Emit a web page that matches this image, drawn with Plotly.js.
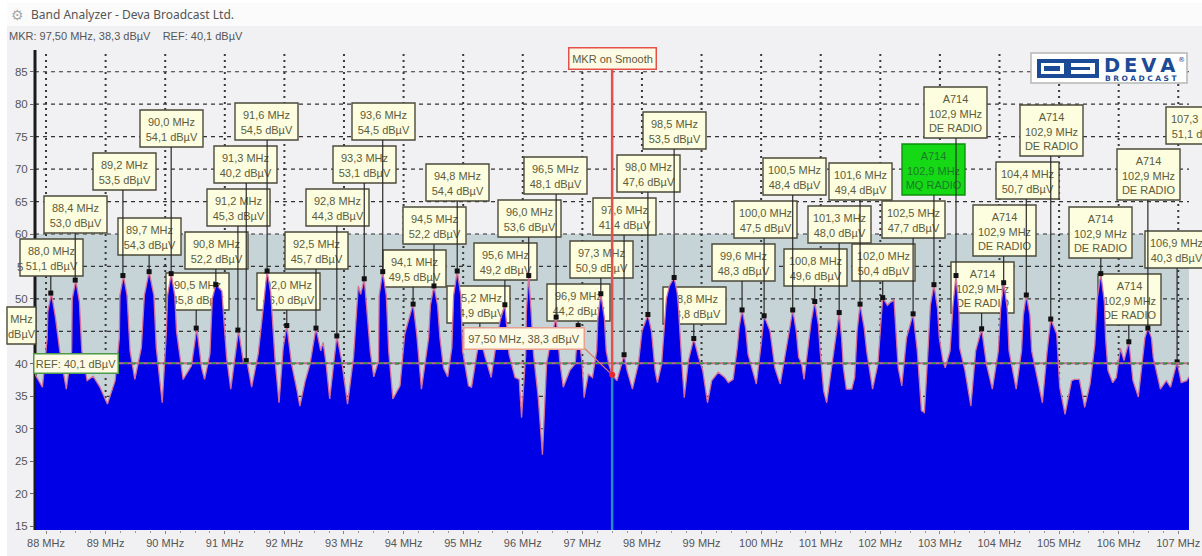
<!DOCTYPE html>
<html><head><meta charset="utf-8">
<script src="https://cdn.plot.ly/plotly-3.0.1.min.js"></script>
<style>html,body{margin:0;padding:0;background:#f1f1f3;overflow:hidden}</style></head>
<body><div id="chart" style="width:1202px;height:556px"></div>
<script>
// Spectrum outline
const outlineFreq = [87.815,87.94,88.02,88.09,88.16,88.23,88.34,88.43,88.50,88.6,88.69,88.79,88.9,89.03,89.16,89.23,89.30,89.41,89.49,89.6,89.73,89.85,89.95,90.02,90.10,90.19,90.30,90.44,90.53,90.61,90.66,90.75,90.85,90.95,91.03,91.10,91.17,91.23,91.31,91.37,91.45,91.56,91.65,91.71,91.79,91.84,91.91,91.98,92.04,92.12,92.21,92.26,92.35,92.43,92.53,92.61,92.65,92.70,92.76,92.88,92.96,93.06,93.16,93.24,93.28,93.34,93.44,93.5,93.58,93.65,93.75,93.82,93.94,94.02,94.11,94.16,94.22,94.30,94.42,94.51,94.61,94.67,94.74,94.81,94.90,94.99,95.09,95.14,95.22,95.28,95.37,95.47,95.56,95.62,95.70,95.77,95.87,95.94,95.98,96.05,96.10,96.18,96.26,96.33,96.40,96.48,96.56,96.62,96.68,96.79,96.88,96.93,97.0,97.03,97.1,97.17,97.24,97.31,97.40,97.45,97.5,97.58,97.63,97.70,97.75,97.84,97.94,98.0,98.10,98.16,98.22,98.26,98.33,98.41,98.54,98.61,98.67,98.71,98.78,98.87,98.95,99.02,99.1,99.17,99.28,99.39,99.45,99.53,99.6,99.68,99.78,99.92,100.0,100.05,100.15,100.23,100.32,100.43,100.53,100.63,100.68,100.72,100.79,100.90,100.99,101.05,101.10,101.18,101.31,101.38,101.43,101.52,101.57,101.66,101.77,101.87,101.96,102.04,102.12,102.16,102.23,102.3,102.36,102.44,102.55,102.62,102.69,102.74,102.8,102.90,102.99,103.05,103.09,103.17,103.27,103.33,103.42,103.52,103.6,103.70,103.78,103.88,103.98,104.07,104.16,104.28,104.37,104.45,104.54,104.63,104.72,104.8,104.86,104.96,105.01,105.1,105.21,105.26,105.34,105.43,105.52,105.6,105.70,105.78,105.82,105.9,105.96,106.03,106.09,106.17,106.24,106.33,106.41,106.49,106.58,106.7,106.8,106.87,106.98,107.05,107.14,107.18];
const outlineLevel = [38.4,36.4,44,50.9,47,42,36.1,42,52.9,42,37.4,38.1,36.5,33.8,37.4,44,53.6,42,37.6,42.5,54.2,42.5,34,45,53.9,45,37.6,39.7,45.5,39.4,37.6,41.5,52.2,51.2,41,36.1,41,45.2,40.4,40.5,36.4,41.5,49,54.3,48,41,34,42.5,45.9,40,36,33.5,37.4,40,45.5,42,43.3,40,34.6,44.3,40.5,33.8,41,52,50.7,53.1,42,38,40.5,54.2,42,34.6,36.6,44.6,47.6,49.2,44.6,36.1,44,52,44,39.4,38,42.5,54.3,42,36.6,36.4,41,44.2,41,37.9,43.5,46.6,49.1,41.5,37.9,37.6,31.7,41.5,53.6,41.5,34.8,26,40,44,47.2,40.5,36.4,39,40,45.9,39.4,34.8,38.4,37.9,42,50.8,42,39.7,38.3,37.4,39,41.4,39,36.1,40,45,47.6,45,39,37.1,40,50,53.3,49,40,34.8,40.5,43.9,41,39,34,37.4,38.7,37.9,37.1,37.6,42.5,48.3,41.5,36.9,43,47.4,45,39.4,36.9,42.5,48.3,41,40,37.6,43,49.6,42,35.8,34,39,47.9,39.4,36.1,36.1,37.9,49.2,42,36.1,40,50.2,49,49.4,49.8,39.4,36.6,44,47.7,42,32.8,32.5,42,52.2,44,40.5,39.4,42,53.6,42.5,39,33.5,42,45.4,40,36.1,42,52.5,42,36.1,42,50.6,42,37.9,34,42,46.9,44.6,36.4,32.2,37.4,37.6,37.6,33.3,36.9,43,53.9,44,39,37.1,37.9,42.4,40.5,43.4,37.4,34.9,41.5,45.5,41,36.1,37.4,36.4,40.3,37.1,37.4,38];
// Points on the shoulders of the tallest peaks
const shoulderFreq = [88.03,88.15,88.44,88.56,89.24,89.36,89.65,89.81,90.04,90.16,90.79,91.77,93.59,93.71,94.45,94.57,94.84,94.96,96.06,96.14,97.26,97.37,98.46,98.59,99.63,99.74,100.48,100.59,100.84,100.96,101.27,101.35,101.61,101.73,102.84,102.96,103.22,103.32,104.02,104.13,104.40,104.51,105.64,105.76,106.44,106.55];
const shoulderLevel = [48,48,50,49.5,50.5,50.5,50.5,50.5,50.5,50.5,50,51,50.5,50.5,49,49,50.5,50.5,48,48,47,47,52,51,45.5,45.5,45.5,45,46.5,46,45,44,45,45.5,49,48.5,49,48,48.5,48.5,47.5,47.5,50,49.5,44,44];

// Detected peaks: label text, marker frequency, marker level
const labelTexts = ["88,0 MHz<br>51,1 dBµV","88,4 MHz<br>53,0 dBµV","89,2 MHz<br>53,5 dBµV","89,7 MHz<br>54,3 dBµV","90,0 MHz<br>54,1 dBµV","90,5 MHz<br>45,8 dBµV","90,8 MHz<br>52,2 dBµV","91,2 MHz<br>45,3 dBµV","91,3 MHz<br>40,2 dBµV","91,6 MHz<br>54,5 dBµV","92,0 MHz<br>46,0 dBµV","92,5 MHz<br>45,7 dBµV","92,8 MHz<br>44,3 dBµV","93,3 MHz<br>53,1 dBµV","93,6 MHz<br>54,5 dBµV","94,1 MHz<br>49,5 dBµV","94,5 MHz<br>52,2 dBµV","94,8 MHz<br>54,4 dBµV","95,2 MHz<br>44,9 dBµV","95,6 MHz<br>49,2 dBµV","96,0 MHz<br>53,6 dBµV","96,5 MHz<br>48,1 dBµV","96,9 MHz<br>44,2 dBµV","97,3 MHz<br>50,9 dBµV","97,6 MHz<br>41,4 dBµV","98,0 MHz<br>47,6 dBµV","98,5 MHz<br>53,5 dBµV","98,8 MHz<br>43,8 dBµV","99,6 MHz<br>48,3 dBµV","100,0 MHz<br>47,5 dBµV","100,5 MHz<br>48,4 dBµV","100,8 MHz<br>49,6 dBµV","101,3 MHz<br>48,0 dBµV","101,6 MHz<br>49,4 dBµV","102,0 MHz<br>50,4 dBµV","102,5 MHz<br>47,7 dBµV","A714<br>102,9 MHz<br>MQ RADIO","A714<br>102,9 MHz<br>DE RADIO","A714<br>102,9 MHz<br>DE RADIO","A714<br>102,9 MHz<br>DE RADIO","104,4 MHz<br>50,7 dBµV","A714<br>102,9 MHz<br>DE RADIO","A714<br>102,9 MHz<br>DE RADIO","A714<br>102,9 MHz<br>DE RADIO","A714<br>102,9 MHz<br>DE RADIO","106,9 MHz<br>40,3 dBµV","107,3 MHz<br>51,1 dBµV"];
const peakFreq = [88.08,88.49,89.29,89.73,90.10,90.52,90.85,91.22,91.36,91.71,92.04,92.53,92.88,93.34,93.65,94.16,94.51,94.90,95.28,95.70,96.10,96.56,96.93,97.31,97.70,98.10,98.54,98.87,99.68,100.05,100.53,100.90,101.31,101.66,102.04,102.55,102.90,103.27,103.70,104.07,104.45,104.86,105.70,106.17,106.49,106.98,107.31];
const peakLevel = [50.9,52.9,53.6,54.2,53.9,45.5,52.2,45.2,40.5,54.3,45.9,45.5,44.3,53.1,54.2,49.2,52.0,54.3,44.2,49.1,53.6,47.2,45.9,50.8,41.4,47.6,53.3,43.9,48.3,47.4,48.3,49.6,47.9,49.2,50.2,47.7,52.2,53.6,45.4,52.5,50.6,46.9,53.9,43.4,45.5,40.3,50.9];
const xTickVals = [88,89,90,91,92,93,94,95,96,97,98,99,100,101,102,103,104,105,106,107];
const xTickText = xTickVals.map(v => v + " MHz");
const yTickVals = [15,20,25,30,35,40,50,60,65,70,75,80,85];
const gridLevels = [40,45,50,55,60,65,70,75,80,85,35,30];
const refLevel = 40.1, markerFreq = 97.5, markerLevel = 38.3;

// Merge both sets of outline points in frequency order
const outlinePairs = outlineFreq.map((f,i)=>[f,outlineLevel[i]]).concat(shoulderFreq.map((f,i)=>[f,shoulderLevel[i]])).sort((a,b)=>a[0]-b[0]);
const spectrumFreq = outlinePairs.map(p=>p[0]), spectrumLevel = outlinePairs.map(p=>p[1]);

// Page layout (pixels)
const W=1202,H=556,L=35,T=50,PW=1154,PH=480;
const xRange=[87.815,107.18], yRange=[14.4,88.35];
const labelLeft = [20,44,93,118,140,166,185,207,214,235,257,285,306,333,352,383,403,426,447,474,498,524,547,570,593,617,643,663,712,734,763,784,808,829,852,882,902,924,951,973,996,1020,1069,1098,1117,1145,1166];
const labelTop = [239,196,153,218,110,273,232,189,146,103,273,232,189,146,103,250,207,164,286,243,200,157,284,241,198,155,112,287,244,201,158,249,206,163,244,201,144,87,262,205,162,105,207,274,149,231,107];
const px = x => (x-L)/PW, py = y => 1-(y-T)/PH;
const yToLevel = y => yRange[1]-(y-T)/PH*(yRange[1]-yRange[0]);

const pRect = (x0,y0,x1,y1,o) => Object.assign({type:'rect',xref:'paper',yref:'paper',layer:'below',x0:px(x0),x1:px(x1),y0:py(y0),y1:py(y1),line:{width:0}},o||{});

const shapes = [];
shapes.push(pRect(0,0,7,H,{fillcolor:'#ffffff'}));
shapes.push(pRect(0,0,W,3,{fillcolor:'#ffffff'}));
shapes.push(pRect(7,3,W,26,{fillcolor:'#fbfbfb'}));
shapes.push(pRect(L,234,1189,530,{fillcolor:'#c6d4d7'}));
xTickVals.forEach(v=>shapes.push({type:'line',xref:'x',yref:'paper',layer:'below',x0:v,x1:v,y0:0,y1:1,line:{color:'#3a3a3a',width:2,dash:'2px,4px'}}));
gridLevels.forEach(v=>{const yp=py(T+(yRange[1]-v)/(yRange[1]-yRange[0])*PH);
  shapes.push({type:'line',xref:'paper',yref:'paper',layer:'below',x0:0,x1:1,y0:yp,y1:yp,line:{color:'#333',width:1.2,dash:'4px,4px'}});});
shapes.push({type:'line',xref:'paper',yref:'paper',layer:'below',x0:0,x1:0,y0:0,y1:1,line:{color:'#1a1a1a',width:3}});
// Logo plate
shapes.push(pRect(1031,53,1187,83,{fillcolor:'#ffffff',line:{color:'#b4b8b4',width:1.5}}));
shapes.push(pRect(1039,61,1066,76,{line:{color:'#1b4a96',width:4}}));
shapes.push(pRect(1044,66,1060,71,{fillcolor:'#1b4a96'}));
shapes.push(pRect(1069,61,1097,76,{line:{color:'#1b4a96',width:4}}));
shapes.push(pRect(1066,67,1090,70,{fillcolor:'#1b4a96'}));
// Peak label boxes
labelTexts.forEach((t,i)=>{
  const h = t.startsWith('A714') ? 51 : 37;
  const green = t.indexOf('MQ RADIO')>=0;
  shapes.push(pRect(labelLeft[i],labelTop[i],labelLeft[i]+63,labelTop[i]+h,{
    fillcolor: green?'#16d916':'#fdfde0', line:{color: green?'#0f8f0f':'#4a4a3a',width:1.4},
    label:{text:t,textposition:'middle center',font:{family:'Liberation Sans, Arial',size:11,color: green?'#1b7a2a':'#5c5c3c'}}
  }));
});
// Box that runs off the left side of the window
shapes.push(pRect(7,307,36,344,{fillcolor:'#fdfde0',line:{color:'#4a4a3a',width:1.4},
  label:{text:'MHz<br>dBµV',textposition:'middle center',font:{family:'Liberation Sans, Arial',size:11,color:'#5c5c3c'}}}));

// Leader lines from peak markers up to their boxes
const leadX=[],leadY=[];
labelTexts.forEach((t,i)=>{
  const h = t.startsWith('A714') ? 51 : 37;
  leadX.push(peakFreq[i],peakFreq[i],null);
  leadY.push(peakLevel[i],yToLevel(labelTop[i]+h),null);
});

const traces = [
 {x:leadX,y:leadY,mode:'lines',line:{color:'#2a2a2a',width:1.2},cliponaxis:false,hoverinfo:'skip',showlegend:false},
 {x:spectrumFreq,y:spectrumLevel,mode:'lines',fill:'tozeroy',fillcolor:'#0000e6',line:{color:'#d4709c',width:1.3},hoverinfo:'skip',showlegend:false},
 {x:peakFreq,y:peakLevel,mode:'markers',marker:{symbol:'square',size:5,color:'#111'},cliponaxis:false,hoverinfo:'skip',showlegend:false},
 {x:xRange,y:[refLevel,refLevel],mode:'lines',line:{color:'#c0708f',width:2},hoverinfo:'skip',showlegend:false},
 {x:xRange,y:[refLevel,refLevel],mode:'lines',line:{color:'#2f9a3a',width:1.6,dash:'5px,3px'},hoverinfo:'skip',showlegend:false},
 {x:[markerFreq,markerFreq],y:[markerLevel,yToLevel(69)],mode:'lines',line:{color:'#e4504c',width:2.5},hoverinfo:'skip',showlegend:false},
 {x:[markerFreq,markerFreq],y:[yRange[0],markerLevel],mode:'lines',line:{color:'#2a8ac4',width:2.5},hoverinfo:'skip',showlegend:false},
 {x:[markerFreq,97.03],y:[markerLevel,yToLevel(348)],mode:'lines',line:{color:'#e07a70',width:1.2},hoverinfo:'skip',showlegend:false},
 {x:[markerFreq],y:[markerLevel],mode:'markers',marker:{size:6,color:'#e8242c'},hoverinfo:'skip',showlegend:false}
];

const note = (text,x,y,o) => Object.assign({text,xref:'paper',yref:'paper',x:px(x),y:py(y),xanchor:'left',yanchor:'middle',showarrow:false,
  font:{family:'Liberation Sans, Arial',size:11,color:'#555'}},o||{});
const boxNote = (text,x0,y0,x1,y1,border) => note(text,x0,(y0+y1)/2,{width:x1-x0-2,height:y1-y0-2,align:'center',borderpad:0,borderwidth:1.5,bordercolor:border,bgcolor:'#fdfbe6',font:{family:'Liberation Sans, Arial',size:11,color:'#5c5c3c'}});

const annotations = [
 note('Band Analyzer - Deva Broadcast Ltd.',29,15,{font:{family:'Noto Sans',size:12,color:'#555'}}),
 note('⚙',9,15,{font:{family:'DejaVu Sans',size:14,color:'#a8a8a8'}}),
 note('MKR: 97,50 MHz, 38,3 dBµV &nbsp;&nbsp; REF: 40,1 dBµV',7,36,{font:{family:'Liberation Sans, Arial',size:11,color:'#555'}}),
 note('5',15,267,{font:{family:'Liberation Sans, Arial',size:11.5,color:'#555'}}),
 boxNote('REF: 40,1 dBµV',33,353,118,373,'#4a9a4a'),
 boxNote('MKR on Smooth',568,47,656,69,'#e4504c'),
 boxNote('97,50 MHz, 38,3 dBµV',463,327,584,349,'#e9a090'),
 note('<b>D\u2009E\u2009V\u2009A</b>',1102,65,{font:{family:'DejaVu Sans',size:19.5,color:'#1b4a96'}}),
 note('<b>B\u2004R\u2004O\u2004A\u2004D\u2004C\u2004A\u2004S\u2004T</b>',1103,78.5,{font:{family:'DejaVu Sans',size:7.5,color:'#1b4a96'}}),
 note('®',1176,60,{font:{family:'DejaVu Sans',size:7,color:'#1b4a96'}})
];

Plotly.newPlot('chart',traces,{
  width:W,height:H,margin:{l:L,r:W-L-PW,t:T,b:H-T-PH,pad:0},
  paper_bgcolor:'#f1f1f3',plot_bgcolor:'rgba(0,0,0,0)',showlegend:false,
  xaxis:{range:xRange,tickmode:'array',tickvals:xTickVals,ticktext:xTickText,ticks:'outside',ticklen:3,tickcolor:'#888',
    showgrid:false,zeroline:false,showline:false,tickfont:{family:'Liberation Sans, Arial',size:11,color:'#555'},
    minor:{dtick:0.25,ticks:'outside',ticklen:2,tickcolor:'#999',showgrid:false}},
  yaxis:{range:yRange,tickmode:'array',tickvals:yTickVals,ticks:'outside',ticklen:4,tickcolor:'#666',
    showgrid:false,zeroline:false,showline:false,tickfont:{family:'Liberation Sans, Arial',size:11.5,color:'#555'}},
  shapes,annotations
},{displayModeBar:false,staticPlot:true});
</script></body></html>
